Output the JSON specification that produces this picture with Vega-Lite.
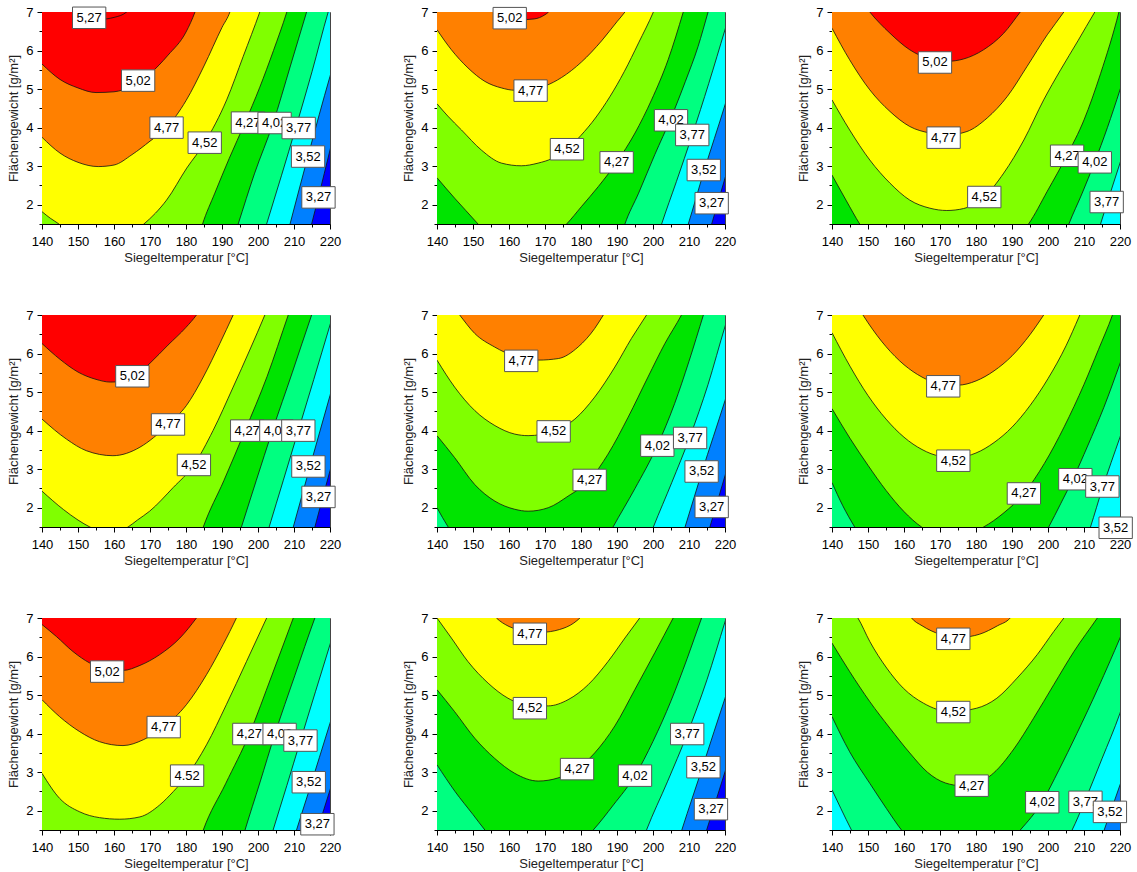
{
  "$schema": "https://vega.github.io/schema/vega-lite/v6.json",
  "background": "white",
  "padding": {"left": 7, "top": 4, "right": 2, "bottom": 2},
  "data": {"values": [
    {"p":1,"c":3.02,"b":1,"x":139,"y":1},{"p":1,"c":3.02,"b":1,"x":221,"y":1},
    {"p":1,"c":3.27,"x":139,"y":0.9},{"p":1,"c":3.27,"x":213.6,"y":1.0},{"p":1,"c":3.27,"x":214.9,"y":1.5},{"p":1,"c":3.27,"x":216.8,"y":2.2},{"p":1,"c":3.27,"x":220,"y":3.42},{"p":1,"c":3.27,"x":221,"y":3.8},
    {"p":1,"c":3.52,"x":139,"y":0.9},{"p":1,"c":3.52,"x":207.5,"y":1.0},{"p":1,"c":3.52,"x":208.9,"y":1.5},{"p":1,"c":3.52,"x":214,"y":3.3},{"p":1,"c":3.52,"x":220,"y":5.33},{"p":1,"c":3.52,"x":221,"y":5.65},
    {"p":1,"c":3.77,"x":139,"y":0.9},{"p":1,"c":3.77,"x":200.8,"y":1.0},{"p":1,"c":3.77,"x":202.4,"y":1.5},{"p":1,"c":3.77,"x":206.5,"y":2.75},{"p":1,"c":3.77,"x":210.5,"y":4.0},{"p":1,"c":3.77,"x":215,"y":5.45},{"p":1,"c":3.77,"x":219.5,"y":7},{"p":1,"c":3.77,"x":220.8,"y":7.4},
    {"p":1,"c":4.02,"x":139,"y":0.9},{"p":1,"c":4.02,"x":192.8,"y":1.0},{"p":1,"c":4.02,"x":194.5,"y":1.5},{"p":1,"c":4.02,"x":199,"y":2.8},{"p":1,"c":4.02,"x":204.2,"y":4.12},{"p":1,"c":4.02,"x":209,"y":5.6},{"p":1,"c":4.02,"x":213.5,"y":7},{"p":1,"c":4.02,"x":214.8,"y":7.4},
    {"p":1,"c":4.27,"x":139,"y":0.9},{"p":1,"c":4.27,"x":183,"y":1.0},{"p":1,"c":4.27,"x":184.6,"y":1.5},{"p":1,"c":4.27,"x":188,"y":2.3},{"p":1,"c":4.27,"x":192,"y":3.2},{"p":1,"c":4.27,"x":196.4,"y":4.13},{"p":1,"c":4.27,"x":200.5,"y":5.05},{"p":1,"c":4.27,"x":204.3,"y":6.0},{"p":1,"c":4.27,"x":208,"y":7},{"p":1,"c":4.27,"x":209.3,"y":7.4},
    {"p":1,"c":4.52,"x":140,"y":1.82},{"p":1,"c":4.52,"x":142.3,"y":1.65},{"p":1,"c":4.52,"x":144.7,"y":1.5},{"p":1,"c":4.52,"x":148,"y":1.22},{"p":1,"c":4.52,"x":156,"y":1.05},{"p":1,"c":4.52,"x":164,"y":1.2},{"p":1,"c":4.52,"x":168.3,"y":1.5},{"p":1,"c":4.52,"x":171.5,"y":1.78},{"p":1,"c":4.52,"x":174.6,"y":2.12},{"p":1,"c":4.52,"x":180.2,"y":2.95},{"p":1,"c":4.52,"x":185.2,"y":3.61},{"p":1,"c":4.52,"x":191.3,"y":4.72},{"p":1,"c":4.52,"x":195.9,"y":5.85},{"p":1,"c":4.52,"x":200.5,"y":7},{"p":1,"c":4.52,"x":202,"y":7.4},
    {"p":1,"c":4.77,"x":140,"y":3.75},{"p":1,"c":4.77,"x":145,"y":3.34},{"p":1,"c":4.77,"x":150,"y":3.1},{"p":1,"c":4.77,"x":155.6,"y":2.99},{"p":1,"c":4.77,"x":160,"y":3.03},{"p":1,"c":4.77,"x":165,"y":3.3},{"p":1,"c":4.77,"x":170,"y":3.65},{"p":1,"c":4.77,"x":174.6,"y":4.0},{"p":1,"c":4.77,"x":180,"y":4.7},{"p":1,"c":4.77,"x":185,"y":5.6},{"p":1,"c":4.77,"x":190,"y":6.6},{"p":1,"c":4.77,"x":192.2,"y":7},{"p":1,"c":4.77,"x":193.5,"y":7.4},
    {"p":1,"c":5.02,"x":140,"y":5.65},{"p":1,"c":5.02,"x":145,"y":5.25},{"p":1,"c":5.02,"x":150,"y":5.03},{"p":1,"c":5.02,"x":155,"y":4.91},{"p":1,"c":5.02,"x":160,"y":4.93},{"p":1,"c":5.02,"x":165,"y":5.08},{"p":1,"c":5.02,"x":170,"y":5.4},{"p":1,"c":5.02,"x":175,"y":5.88},{"p":1,"c":5.02,"x":180,"y":6.48},{"p":1,"c":5.02,"x":182.5,"y":7},{"p":1,"c":5.02,"x":183.8,"y":7.35},
    {"p":1,"c":5.27,"x":147.5,"y":7.3},{"p":1,"c":5.27,"x":149.5,"y":7},{"p":1,"c":5.27,"x":152,"y":6.86},{"p":1,"c":5.27,"x":156,"y":6.81},{"p":1,"c":5.27,"x":160,"y":6.86},{"p":1,"c":5.27,"x":163.5,"y":7},{"p":1,"c":5.27,"x":165,"y":7.15},

    {"p":2,"c":3.02,"b":1,"x":139,"y":1},{"p":2,"c":3.02,"b":1,"x":221,"y":1},
    {"p":2,"c":3.27,"x":139,"y":0.9},{"p":2,"c":3.27,"x":214.7,"y":1.0},{"p":2,"c":3.27,"x":216.3,"y":1.5},{"p":2,"c":3.27,"x":220,"y":2.69},{"p":2,"c":3.27,"x":221,"y":3.0},
    {"p":2,"c":3.52,"x":139,"y":0.9},{"p":2,"c":3.52,"x":208.1,"y":1.0},{"p":2,"c":3.52,"x":209.8,"y":1.5},{"p":2,"c":3.52,"x":214.1,"y":2.85},{"p":2,"c":3.52,"x":220,"y":4.59},{"p":2,"c":3.52,"x":221,"y":4.9},
    {"p":2,"c":3.77,"x":139,"y":0.9},{"p":2,"c":3.77,"x":200.7,"y":1.0},{"p":2,"c":3.77,"x":202.4,"y":1.5},{"p":2,"c":3.77,"x":206.5,"y":2.6},{"p":2,"c":3.77,"x":210.9,"y":3.81},{"p":2,"c":3.77,"x":215.5,"y":5.15},{"p":2,"c":3.77,"x":220,"y":6.54},{"p":2,"c":3.77,"x":221,"y":6.85},
    {"p":2,"c":4.02,"x":139,"y":0.9},{"p":2,"c":4.02,"x":190.5,"y":1.0},{"p":2,"c":4.02,"x":192.2,"y":1.5},{"p":2,"c":4.02,"x":196,"y":2.3},{"p":2,"c":4.02,"x":200.5,"y":3.3},{"p":2,"c":4.02,"x":205,"y":4.25},{"p":2,"c":4.02,"x":209,"y":5.2},{"p":2,"c":4.02,"x":212.5,"y":6.1},{"p":2,"c":4.02,"x":215.3,"y":7},{"p":2,"c":4.02,"x":216.5,"y":7.4},
    {"p":2,"c":4.27,"x":140,"y":2.7},{"p":2,"c":4.27,"x":144.9,"y":2.17},{"p":2,"c":4.27,"x":148,"y":1.85},{"p":2,"c":4.27,"x":151.4,"y":1.5},{"p":2,"c":4.27,"x":155,"y":1.15},{"p":2,"c":4.27,"x":163,"y":0.9},{"p":2,"c":4.27,"x":171,"y":1.1},{"p":2,"c":4.27,"x":176,"y":1.5},{"p":2,"c":4.27,"x":180.1,"y":1.95},{"p":2,"c":4.27,"x":184.8,"y":2.47},{"p":2,"c":4.27,"x":189.9,"y":3.1},{"p":2,"c":4.27,"x":195,"y":3.86},{"p":2,"c":4.27,"x":199.6,"y":4.72},{"p":2,"c":4.27,"x":204.2,"y":5.76},{"p":2,"c":4.27,"x":208.4,"y":7},{"p":2,"c":4.27,"x":209.5,"y":7.35},
    {"p":2,"c":4.52,"x":140,"y":4.62},{"p":2,"c":4.52,"x":143,"y":4.3},{"p":2,"c":4.52,"x":146.8,"y":3.94},{"p":2,"c":4.52,"x":152.3,"y":3.42},{"p":2,"c":4.52,"x":157.9,"y":3.08},{"p":2,"c":4.52,"x":163.4,"y":3.01},{"p":2,"c":4.52,"x":168.1,"y":3.08},{"p":2,"c":4.52,"x":172,"y":3.2},{"p":2,"c":4.52,"x":176.1,"y":3.44},{"p":2,"c":4.52,"x":180,"y":3.8},{"p":2,"c":4.52,"x":184,"y":4.25},{"p":2,"c":4.52,"x":188,"y":4.8},{"p":2,"c":4.52,"x":192,"y":5.45},{"p":2,"c":4.52,"x":196,"y":6.2},{"p":2,"c":4.52,"x":200.1,"y":7},{"p":2,"c":4.52,"x":201.2,"y":7.25},
    {"p":2,"c":4.77,"x":140,"y":6.54},{"p":2,"c":4.77,"x":144,"y":6.02},{"p":2,"c":4.77,"x":148.6,"y":5.55},{"p":2,"c":4.77,"x":153.3,"y":5.2},{"p":2,"c":4.77,"x":157.9,"y":5.03},{"p":2,"c":4.77,"x":161.6,"y":4.97},{"p":2,"c":4.77,"x":166,"y":4.98},{"p":2,"c":4.77,"x":170,"y":5.08},{"p":2,"c":4.77,"x":174.6,"y":5.3},{"p":2,"c":4.77,"x":180.1,"y":5.7},{"p":2,"c":4.77,"x":185.7,"y":6.25},{"p":2,"c":4.77,"x":190,"y":6.75},{"p":2,"c":4.77,"x":192.2,"y":7},{"p":2,"c":4.77,"x":193.3,"y":7.15},
    {"p":2,"c":5.02,"x":157,"y":7.15},{"p":2,"c":5.02,"x":159,"y":6.92},{"p":2,"c":5.02,"x":163,"y":6.8},{"p":2,"c":5.02,"x":167,"y":6.82},{"p":2,"c":5.02,"x":170,"y":6.93},{"p":2,"c":5.02,"x":171,"y":7},{"p":2,"c":5.02,"x":172.5,"y":7.15},

    {"p":3,"c":3.52,"b":1,"x":139,"y":1},{"p":3,"c":3.52,"b":1,"x":221,"y":1},
    {"p":3,"c":3.77,"x":139,"y":0.9},{"p":3,"c":3.77,"x":212.9,"y":1.0},{"p":3,"c":3.77,"x":214.6,"y":1.5},{"p":3,"c":3.77,"x":217.3,"y":2.3},{"p":3,"c":3.77,"x":220,"y":3.08},{"p":3,"c":3.77,"x":221,"y":3.37},
    {"p":3,"c":4.02,"x":139,"y":0.9},{"p":3,"c":4.02,"x":203.8,"y":1.0},{"p":3,"c":4.02,"x":205.8,"y":1.5},{"p":3,"c":4.02,"x":209.5,"y":2.3},{"p":3,"c":4.02,"x":212.9,"y":3.09},{"p":3,"c":4.02,"x":216.5,"y":4.0},{"p":3,"c":4.02,"x":220,"y":4.98},{"p":3,"c":4.02,"x":221,"y":5.27},
    {"p":3,"c":4.27,"x":140,"y":2.77},{"p":3,"c":4.27,"x":144,"y":2.1},{"p":3,"c":4.27,"x":147.7,"y":1.5},{"p":3,"c":4.27,"x":151,"y":1.05},{"p":3,"c":4.27,"x":160,"y":0.6},{"p":3,"c":4.27,"x":171,"y":0.5},{"p":3,"c":4.27,"x":182,"y":0.6},{"p":3,"c":4.27,"x":190.5,"y":1.05},{"p":3,"c":4.27,"x":194.6,"y":1.5},{"p":3,"c":4.27,"x":199.8,"y":2.35},{"p":3,"c":4.27,"x":205.2,"y":3.27},{"p":3,"c":4.27,"x":210,"y":4.2},{"p":3,"c":4.27,"x":214.6,"y":5.4},{"p":3,"c":4.27,"x":219.7,"y":7},{"p":3,"c":4.27,"x":220.5,"y":7.3},
    {"p":3,"c":4.52,"x":140,"y":4.72},{"p":3,"c":4.52,"x":144.9,"y":3.94},{"p":3,"c":4.52,"x":150.5,"y":3.16},{"p":3,"c":4.52,"x":156.1,"y":2.56},{"p":3,"c":4.52,"x":161.6,"y":2.12},{"p":3,"c":4.52,"x":167.2,"y":1.91},{"p":3,"c":4.52,"x":171.9,"y":1.85},{"p":3,"c":4.52,"x":176.5,"y":1.9},{"p":3,"c":4.52,"x":182.3,"y":2.2},{"p":3,"c":4.52,"x":187.7,"y":2.82},{"p":3,"c":4.52,"x":193.3,"y":3.68},{"p":3,"c":4.52,"x":198.8,"y":4.72},{"p":3,"c":4.52,"x":203.5,"y":5.5},{"p":3,"c":4.52,"x":208.3,"y":6.25},{"p":3,"c":4.52,"x":213,"y":7},{"p":3,"c":4.52,"x":214.3,"y":7.2},
    {"p":3,"c":4.77,"x":140,"y":6.58},{"p":3,"c":4.77,"x":144.9,"y":5.76},{"p":3,"c":4.77,"x":150.5,"y":4.98},{"p":3,"c":4.77,"x":156.1,"y":4.42},{"p":3,"c":4.77,"x":161.6,"y":4.03},{"p":3,"c":4.77,"x":167.2,"y":3.86},{"p":3,"c":4.77,"x":171.9,"y":3.81},{"p":3,"c":4.77,"x":177.5,"y":3.9},{"p":3,"c":4.77,"x":183.1,"y":4.25},{"p":3,"c":4.77,"x":188.7,"y":4.81},{"p":3,"c":4.77,"x":194.2,"y":5.59},{"p":3,"c":4.77,"x":199.8,"y":6.41},{"p":3,"c":4.77,"x":204.4,"y":7},{"p":3,"c":4.77,"x":205.5,"y":7.15},
    {"p":3,"c":5.02,"x":149.5,"y":7.12},{"p":3,"c":5.02,"x":150.5,"y":7},{"p":3,"c":5.02,"x":156.1,"y":6.45},{"p":3,"c":5.02,"x":161.6,"y":6.02},{"p":3,"c":5.02,"x":167.2,"y":5.78},{"p":3,"c":5.02,"x":171.9,"y":5.72},{"p":3,"c":5.02,"x":176.5,"y":5.78},{"p":3,"c":5.02,"x":182.1,"y":6.02},{"p":3,"c":5.02,"x":187.7,"y":6.45},{"p":3,"c":5.02,"x":192.3,"y":7},{"p":3,"c":5.02,"x":193.3,"y":7.12},

    {"p":4,"c":3.02,"b":1,"x":139,"y":1},{"p":4,"c":3.02,"b":1,"x":221,"y":1},
    {"p":4,"c":3.27,"x":139,"y":0.9},{"p":4,"c":3.27,"x":214.4,"y":1.0},{"p":4,"c":3.27,"x":215.8,"y":1.5},{"p":4,"c":3.27,"x":220,"y":2.96},{"p":4,"c":3.27,"x":221,"y":3.3},
    {"p":4,"c":3.52,"x":139,"y":0.9},{"p":4,"c":3.52,"x":208.3,"y":1.0},{"p":4,"c":3.52,"x":209.8,"y":1.5},{"p":4,"c":3.52,"x":214.3,"y":3.02},{"p":4,"c":3.52,"x":220,"y":4.91},{"p":4,"c":3.52,"x":221,"y":5.24},
    {"p":4,"c":3.77,"x":139,"y":0.9},{"p":4,"c":3.77,"x":201.5,"y":1.0},{"p":4,"c":3.77,"x":203.1,"y":1.5},{"p":4,"c":3.77,"x":207,"y":2.7},{"p":4,"c":3.77,"x":211.2,"y":4.0},{"p":4,"c":3.77,"x":215.5,"y":5.33},{"p":4,"c":3.77,"x":220,"y":6.74},{"p":4,"c":3.77,"x":221,"y":7.05},
    {"p":4,"c":4.02,"x":139,"y":0.9},{"p":4,"c":4.02,"x":193.7,"y":1.0},{"p":4,"c":4.02,"x":195.4,"y":1.5},{"p":4,"c":4.02,"x":199.5,"y":2.7},{"p":4,"c":4.02,"x":204,"y":4.0},{"p":4,"c":4.02,"x":209.5,"y":5.5},{"p":4,"c":4.02,"x":214.9,"y":7},{"p":4,"c":4.02,"x":216.2,"y":7.35},
    {"p":4,"c":4.27,"x":139,"y":0.9},{"p":4,"c":4.27,"x":183,"y":1.0},{"p":4,"c":4.27,"x":184.8,"y":1.5},{"p":4,"c":4.27,"x":190.5,"y":2.7},{"p":4,"c":4.27,"x":196.4,"y":4.0},{"p":4,"c":4.27,"x":202.5,"y":5.4},{"p":4,"c":4.27,"x":208.4,"y":7},{"p":4,"c":4.27,"x":209.7,"y":7.35},
    {"p":4,"c":4.52,"x":140,"y":2.43},{"p":4,"c":4.52,"x":146,"y":1.95},{"p":4,"c":4.52,"x":150,"y":1.68},{"p":4,"c":4.52,"x":153.3,"y":1.5},{"p":4,"c":4.52,"x":158.6,"y":1.32},{"p":4,"c":4.52,"x":163.9,"y":1.5},{"p":4,"c":4.52,"x":166.5,"y":1.68},{"p":4,"c":4.52,"x":169.9,"y":1.91},{"p":4,"c":4.52,"x":176.4,"y":2.52},{"p":4,"c":4.52,"x":182.2,"y":3.11},{"p":4,"c":4.52,"x":187.5,"y":4.0},{"p":4,"c":4.52,"x":193.1,"y":5.13},{"p":4,"c":4.52,"x":197.7,"y":6.09},{"p":4,"c":4.52,"x":201.9,"y":7},{"p":4,"c":4.52,"x":203,"y":7.25},
    {"p":4,"c":4.77,"x":140,"y":4.3},{"p":4,"c":4.77,"x":146.8,"y":3.78},{"p":4,"c":4.77,"x":152.3,"y":3.48},{"p":4,"c":4.77,"x":159.7,"y":3.35},{"p":4,"c":4.77,"x":167.2,"y":3.57},{"p":4,"c":4.77,"x":171,"y":3.82},{"p":4,"c":4.77,"x":175,"y":4.16},{"p":4,"c":4.77,"x":180.1,"y":4.65},{"p":4,"c":4.77,"x":184.8,"y":5.39},{"p":4,"c":4.77,"x":189.4,"y":6.26},{"p":4,"c":4.77,"x":193.1,"y":7},{"p":4,"c":4.77,"x":194.2,"y":7.22},
    {"p":4,"c":5.02,"x":140,"y":6.26},{"p":4,"c":5.02,"x":145,"y":5.85},{"p":4,"c":5.02,"x":150,"y":5.52},{"p":4,"c":5.02,"x":155,"y":5.33},{"p":4,"c":5.02,"x":159,"y":5.26},{"p":4,"c":5.02,"x":163,"y":5.3},{"p":4,"c":5.02,"x":166,"y":5.42},{"p":4,"c":5.02,"x":170,"y":5.75},{"p":4,"c":5.02,"x":175,"y":6.22},{"p":4,"c":5.02,"x":180,"y":6.68},{"p":4,"c":5.02,"x":182.9,"y":7},{"p":4,"c":5.02,"x":184,"y":7.15},

    {"p":5,"c":3.02,"b":1,"x":139,"y":1},{"p":5,"c":3.02,"b":1,"x":221,"y":1},
    {"p":5,"c":3.27,"x":139,"y":0.9},{"p":5,"c":3.27,"x":214.2,"y":1.0},{"p":5,"c":3.27,"x":215.8,"y":1.5},{"p":5,"c":3.27,"x":220,"y":2.83},{"p":5,"c":3.27,"x":221,"y":3.15},
    {"p":5,"c":3.52,"x":139,"y":0.9},{"p":5,"c":3.52,"x":207.2,"y":1.0},{"p":5,"c":3.52,"x":208.9,"y":1.5},{"p":5,"c":3.52,"x":213.5,"y":2.9},{"p":5,"c":3.52,"x":220,"y":4.78},{"p":5,"c":3.52,"x":221,"y":5.08},
    {"p":5,"c":3.77,"x":139,"y":0.9},{"p":5,"c":3.77,"x":198,"y":1.0},{"p":5,"c":3.77,"x":200.1,"y":1.5},{"p":5,"c":3.77,"x":205.2,"y":2.65},{"p":5,"c":3.77,"x":210.3,"y":3.85},{"p":5,"c":3.77,"x":215.3,"y":5.2},{"p":5,"c":3.77,"x":220,"y":6.7},{"p":5,"c":3.77,"x":221,"y":7.0},
    {"p":5,"c":4.02,"x":140,"y":2.0},{"p":5,"c":4.02,"x":141.5,"y":1.75},{"p":5,"c":4.02,"x":143.1,"y":1.5},{"p":5,"c":4.02,"x":146,"y":1.05},{"p":5,"c":4.02,"x":153,"y":0.55},{"p":5,"c":4.02,"x":166,"y":0.35},{"p":5,"c":4.02,"x":179,"y":0.55},{"p":5,"c":4.02,"x":186,"y":1.0},{"p":5,"c":4.02,"x":188.9,"y":1.5},{"p":5,"c":4.02,"x":195,"y":2.5},{"p":5,"c":4.02,"x":201.2,"y":3.61},{"p":5,"c":4.02,"x":206,"y":4.7},{"p":5,"c":4.02,"x":210,"y":5.8},{"p":5,"c":4.02,"x":214,"y":7},{"p":5,"c":4.02,"x":215,"y":7.3},
    {"p":5,"c":4.27,"x":140,"y":3.87},{"p":5,"c":4.27,"x":144.9,"y":3.3},{"p":5,"c":4.27,"x":150.5,"y":2.6},{"p":5,"c":4.27,"x":156.1,"y":2.17},{"p":5,"c":4.27,"x":161.6,"y":1.96},{"p":5,"c":4.27,"x":165.3,"y":1.91},{"p":5,"c":4.27,"x":170.9,"y":2.0},{"p":5,"c":4.27,"x":176.4,"y":2.3},{"p":5,"c":4.27,"x":182.4,"y":2.72},{"p":5,"c":4.27,"x":187.5,"y":3.39},{"p":5,"c":4.27,"x":193.1,"y":4.35},{"p":5,"c":4.27,"x":198.6,"y":5.39},{"p":5,"c":4.27,"x":203.3,"y":6.26},{"p":5,"c":4.27,"x":207.9,"y":7},{"p":5,"c":4.27,"x":209,"y":7.2},
    {"p":5,"c":4.52,"x":140,"y":5.83},{"p":5,"c":4.52,"x":144.9,"y":5.13},{"p":5,"c":4.52,"x":150.5,"y":4.52},{"p":5,"c":4.52,"x":156.1,"y":4.13},{"p":5,"c":4.52,"x":161.6,"y":3.91},{"p":5,"c":4.52,"x":165.3,"y":3.87},{"p":5,"c":4.52,"x":172.4,"y":3.98},{"p":5,"c":4.52,"x":178.3,"y":4.3},{"p":5,"c":4.52,"x":183.8,"y":4.87},{"p":5,"c":4.52,"x":189.4,"y":5.65},{"p":5,"c":4.52,"x":194,"y":6.39},{"p":5,"c":4.52,"x":198.2,"y":7},{"p":5,"c":4.52,"x":199.2,"y":7.15},
    {"p":5,"c":4.77,"x":145.3,"y":7.12},{"p":5,"c":4.77,"x":146.3,"y":7},{"p":5,"c":4.77,"x":150.5,"y":6.52},{"p":5,"c":4.77,"x":156,"y":6.17},{"p":5,"c":4.77,"x":161.6,"y":5.93},{"p":5,"c":4.77,"x":168.1,"y":5.83},{"p":5,"c":4.77,"x":173.7,"y":5.87},{"p":5,"c":4.77,"x":179.2,"y":6.17},{"p":5,"c":4.77,"x":183.8,"y":6.65},{"p":5,"c":4.77,"x":186.2,"y":7},{"p":5,"c":4.77,"x":187,"y":7.12},

    {"p":6,"c":3.27,"b":1,"x":139,"y":1},{"p":6,"c":3.27,"b":1,"x":221,"y":1},
    {"p":6,"c":3.52,"x":139,"y":0.9},{"p":6,"c":3.52,"x":217.5,"y":1.1},{"p":6,"c":3.52,"x":218.5,"y":1.5},{"p":6,"c":3.52,"x":220,"y":1.75},{"p":6,"c":3.52,"x":221,"y":1.95},
    {"p":6,"c":3.77,"x":139,"y":0.9},{"p":6,"c":3.77,"x":210,"y":1.0},{"p":6,"c":3.77,"x":211.8,"y":1.5},{"p":6,"c":3.77,"x":215.1,"y":2.5},{"p":6,"c":3.77,"x":220,"y":3.83},{"p":6,"c":3.77,"x":221,"y":4.1},
    {"p":6,"c":4.02,"x":140,"y":2.65},{"p":6,"c":4.02,"x":143,"y":2.05},{"p":6,"c":4.02,"x":146.3,"y":1.5},{"p":6,"c":4.02,"x":149,"y":1.1},{"p":6,"c":4.02,"x":160,"y":0.5},{"p":6,"c":4.02,"x":175,"y":0.35},{"p":6,"c":4.02,"x":190,"y":0.6},{"p":6,"c":4.02,"x":197.5,"y":1.05},{"p":6,"c":4.02,"x":200.2,"y":1.5},{"p":6,"c":4.02,"x":203.5,"y":2.1},{"p":6,"c":4.02,"x":206.9,"y":2.74},{"p":6,"c":4.02,"x":211,"y":3.6},{"p":6,"c":4.02,"x":215.5,"y":4.6},{"p":6,"c":4.02,"x":220,"y":5.74},{"p":6,"c":4.02,"x":221,"y":6.0},
    {"p":6,"c":4.27,"x":140,"y":4.57},{"p":6,"c":4.27,"x":145,"y":3.8},{"p":6,"c":4.27,"x":150,"y":3.1},{"p":6,"c":4.27,"x":155,"y":2.45},{"p":6,"c":4.27,"x":160,"y":1.9},{"p":6,"c":4.27,"x":164.9,"y":1.5},{"p":6,"c":4.27,"x":173,"y":1.25},{"p":6,"c":4.27,"x":182.1,"y":1.5},{"p":6,"c":4.27,"x":187.5,"y":1.85},{"p":6,"c":4.27,"x":193.3,"y":2.37},{"p":6,"c":4.27,"x":199,"y":3.15},{"p":6,"c":4.27,"x":204.5,"y":4.1},{"p":6,"c":4.27,"x":210,"y":5.2},{"p":6,"c":4.27,"x":214,"y":6.1},{"p":6,"c":4.27,"x":217.9,"y":7},{"p":6,"c":4.27,"x":219,"y":7.3},
    {"p":6,"c":4.52,"x":140,"y":6.54},{"p":6,"c":4.52,"x":145,"y":5.67},{"p":6,"c":4.52,"x":150,"y":4.91},{"p":6,"c":4.52,"x":155,"y":4.3},{"p":6,"c":4.52,"x":160,"y":3.83},{"p":6,"c":4.52,"x":165,"y":3.51},{"p":6,"c":4.52,"x":170,"y":3.34},{"p":6,"c":4.52,"x":175,"y":3.31},{"p":6,"c":4.52,"x":180,"y":3.42},{"p":6,"c":4.52,"x":185,"y":3.69},{"p":6,"c":4.52,"x":190,"y":4.09},{"p":6,"c":4.52,"x":195,"y":4.65},{"p":6,"c":4.52,"x":200,"y":5.35},{"p":6,"c":4.52,"x":205,"y":6.2},{"p":6,"c":4.52,"x":208.6,"y":6.95},{"p":6,"c":4.52,"x":210,"y":7.25},
    {"p":6,"c":4.77,"x":148,"y":7.08},{"p":6,"c":4.77,"x":148.6,"y":7},{"p":6,"c":4.77,"x":150,"y":6.8},{"p":6,"c":4.77,"x":155,"y":6.18},{"p":6,"c":4.77,"x":160,"y":5.71},{"p":6,"c":4.77,"x":165,"y":5.39},{"p":6,"c":4.77,"x":170,"y":5.21},{"p":6,"c":4.77,"x":175,"y":5.18},{"p":6,"c":4.77,"x":180,"y":5.29},{"p":6,"c":4.77,"x":185,"y":5.55},{"p":6,"c":4.77,"x":190,"y":5.94},{"p":6,"c":4.77,"x":195,"y":6.49},{"p":6,"c":4.77,"x":198.8,"y":7},{"p":6,"c":4.77,"x":200,"y":7.17},

    {"p":7,"c":3.02,"b":1,"x":139,"y":1},{"p":7,"c":3.02,"b":1,"x":221,"y":1},
    {"p":7,"c":3.27,"x":139,"y":0.9},{"p":7,"c":3.27,"x":214.8,"y":1.0},{"p":7,"c":3.27,"x":216.5,"y":1.5},{"p":7,"c":3.27,"x":220,"y":2.54},{"p":7,"c":3.27,"x":221,"y":2.84},
    {"p":7,"c":3.52,"x":139,"y":0.9},{"p":7,"c":3.52,"x":209,"y":1.0},{"p":7,"c":3.52,"x":210.7,"y":1.5},{"p":7,"c":3.52,"x":214.1,"y":2.5},{"p":7,"c":3.52,"x":220,"y":4.27},{"p":7,"c":3.52,"x":221,"y":4.57},
    {"p":7,"c":3.77,"x":139,"y":0.9},{"p":7,"c":3.77,"x":202.6,"y":1.0},{"p":7,"c":3.77,"x":204.2,"y":1.5},{"p":7,"c":3.77,"x":208,"y":2.65},{"p":7,"c":3.77,"x":211.8,"y":3.82},{"p":7,"c":3.77,"x":216,"y":5.1},{"p":7,"c":3.77,"x":220,"y":6.31},{"p":7,"c":3.77,"x":221,"y":6.62},
    {"p":7,"c":4.02,"x":139,"y":0.9},{"p":7,"c":4.02,"x":194.8,"y":1.0},{"p":7,"c":4.02,"x":196.4,"y":1.5},{"p":7,"c":4.02,"x":200.5,"y":2.72},{"p":7,"c":4.02,"x":204.7,"y":3.99},{"p":7,"c":4.02,"x":210.2,"y":5.5},{"p":7,"c":4.02,"x":215.8,"y":7},{"p":7,"c":4.02,"x":217.2,"y":7.35},
    {"p":7,"c":4.27,"x":139,"y":0.9},{"p":7,"c":4.27,"x":183,"y":1.0},{"p":7,"c":4.27,"x":184.8,"y":1.5},{"p":7,"c":4.27,"x":191,"y":2.7},{"p":7,"c":4.27,"x":197.6,"y":3.99},{"p":7,"c":4.27,"x":203.8,"y":5.5},{"p":7,"c":4.27,"x":209.8,"y":7},{"p":7,"c":4.27,"x":211.2,"y":7.35},
    {"p":7,"c":4.52,"x":140,"y":2.97},{"p":7,"c":4.52,"x":144.9,"y":2.32},{"p":7,"c":4.52,"x":150.5,"y":1.97},{"p":7,"c":4.52,"x":156,"y":1.82},{"p":7,"c":4.52,"x":161.6,"y":1.78},{"p":7,"c":4.52,"x":167.2,"y":1.84},{"p":7,"c":4.52,"x":172.7,"y":2.15},{"p":7,"c":4.52,"x":176.5,"y":2.5},{"p":7,"c":4.52,"x":180.3,"y":2.91},{"p":7,"c":4.52,"x":185.7,"y":3.71},{"p":7,"c":4.52,"x":191.2,"y":4.75},{"p":7,"c":4.52,"x":196.8,"y":5.87},{"p":7,"c":4.52,"x":202.4,"y":7},{"p":7,"c":4.52,"x":203.5,"y":7.22},
    {"p":7,"c":4.77,"x":140,"y":4.88},{"p":7,"c":4.77,"x":144.9,"y":4.44},{"p":7,"c":4.77,"x":150.5,"y":4.05},{"p":7,"c":4.77,"x":156,"y":3.79},{"p":7,"c":4.77,"x":162.5,"y":3.69},{"p":7,"c":4.77,"x":168.1,"y":3.84},{"p":7,"c":4.77,"x":173.8,"y":4.17},{"p":7,"c":4.77,"x":180.1,"y":4.75},{"p":7,"c":4.77,"x":185.7,"y":5.53},{"p":7,"c":4.77,"x":190.3,"y":6.31},{"p":7,"c":4.77,"x":194,"y":7},{"p":7,"c":4.77,"x":195,"y":7.2},
    {"p":7,"c":5.02,"x":140,"y":6.83},{"p":7,"c":5.02,"x":144,"y":6.52},{"p":7,"c":5.02,"x":148.6,"y":6.13},{"p":7,"c":5.02,"x":153.3,"y":5.83},{"p":7,"c":5.02,"x":158.1,"y":5.66},{"p":7,"c":5.02,"x":162.5,"y":5.64},{"p":7,"c":5.02,"x":167.2,"y":5.77},{"p":7,"c":5.02,"x":172.7,"y":6.05},{"p":7,"c":5.02,"x":178.3,"y":6.48},{"p":7,"c":5.02,"x":182.9,"y":7},{"p":7,"c":5.02,"x":184,"y":7.14},

    {"p":8,"c":3.02,"b":1,"x":139,"y":1},{"p":8,"c":3.02,"b":1,"x":221,"y":1},
    {"p":8,"c":3.27,"x":139,"y":0.9},{"p":8,"c":3.27,"x":213.2,"y":1.0},{"p":8,"c":3.27,"x":214.9,"y":1.5},{"p":8,"c":3.27,"x":220,"y":3.01},{"p":8,"c":3.27,"x":221,"y":3.31},
    {"p":8,"c":3.52,"x":139,"y":0.9},{"p":8,"c":3.52,"x":206.3,"y":1.0},{"p":8,"c":3.52,"x":208,"y":1.5},{"p":8,"c":3.52,"x":214,"y":3.2},{"p":8,"c":3.52,"x":220,"y":4.92},{"p":8,"c":3.52,"x":221,"y":5.2},
    {"p":8,"c":3.77,"x":139,"y":0.9},{"p":8,"c":3.77,"x":196.2,"y":1.0},{"p":8,"c":3.77,"x":198.2,"y":1.5},{"p":8,"c":3.77,"x":204,"y":2.75},{"p":8,"c":3.77,"x":209.5,"y":3.99},{"p":8,"c":3.77,"x":215,"y":5.4},{"p":8,"c":3.77,"x":220,"y":6.9},{"p":8,"c":3.77,"x":221,"y":7.2},
    {"p":8,"c":4.02,"x":140,"y":3.19},{"p":8,"c":4.02,"x":145,"y":2.5},{"p":8,"c":4.02,"x":150,"y":1.9},{"p":8,"c":4.02,"x":153.3,"y":1.5},{"p":8,"c":4.02,"x":157,"y":1.1},{"p":8,"c":4.02,"x":167,"y":0.75},{"p":8,"c":4.02,"x":178,"y":1.0},{"p":8,"c":4.02,"x":183.4,"y":1.5},{"p":8,"c":4.02,"x":189,"y":2.15},{"p":8,"c":4.02,"x":195,"y":2.91},{"p":8,"c":4.02,"x":200,"y":3.8},{"p":8,"c":4.02,"x":205,"y":4.85},{"p":8,"c":4.02,"x":209.5,"y":5.95},{"p":8,"c":4.02,"x":213.5,"y":7},{"p":8,"c":4.02,"x":214.7,"y":7.3},
    {"p":8,"c":4.27,"x":140,"y":5.14},{"p":8,"c":4.27,"x":144.9,"y":4.57},{"p":8,"c":4.27,"x":150.5,"y":3.88},{"p":8,"c":4.27,"x":156,"y":3.36},{"p":8,"c":4.27,"x":161.6,"y":2.97},{"p":8,"c":4.27,"x":168.1,"y":2.77},{"p":8,"c":4.27,"x":173.6,"y":2.85},{"p":8,"c":4.27,"x":178.9,"y":3.08},{"p":8,"c":4.27,"x":183.8,"y":3.5},{"p":8,"c":4.27,"x":189.4,"y":4.2},{"p":8,"c":4.27,"x":195,"y":5.15},{"p":8,"c":4.27,"x":200.5,"y":6.1},{"p":8,"c":4.27,"x":205.6,"y":7},{"p":8,"c":4.27,"x":206.6,"y":7.18},
    {"p":8,"c":4.52,"x":140,"y":7},{"p":8,"c":4.52,"x":144,"y":6.48},{"p":8,"c":4.52,"x":148.6,"y":5.87},{"p":8,"c":4.52,"x":154.2,"y":5.31},{"p":8,"c":4.52,"x":159.7,"y":4.92},{"p":8,"c":4.52,"x":165.8,"y":4.73},{"p":8,"c":4.52,"x":170.9,"y":4.72},{"p":8,"c":4.52,"x":176.4,"y":4.88},{"p":8,"c":4.52,"x":182,"y":5.27},{"p":8,"c":4.52,"x":187.5,"y":5.87},{"p":8,"c":4.52,"x":192.2,"y":6.48},{"p":8,"c":4.52,"x":196.3,"y":7},{"p":8,"c":4.52,"x":197.3,"y":7.13},
    {"p":8,"c":4.77,"x":155,"y":7.15},{"p":8,"c":4.77,"x":156.5,"y":7},{"p":8,"c":4.77,"x":160,"y":6.78},{"p":8,"c":4.77,"x":165,"y":6.66},{"p":8,"c":4.77,"x":169,"y":6.63},{"p":8,"c":4.77,"x":174,"y":6.7},{"p":8,"c":4.77,"x":178,"y":6.87},{"p":8,"c":4.77,"x":179.7,"y":7},{"p":8,"c":4.77,"x":181,"y":7.12},

    {"p":9,"c":3.27,"b":1,"x":139,"y":1},{"p":9,"c":3.27,"b":1,"x":221,"y":1},
    {"p":9,"c":3.52,"x":139,"y":0.9},{"p":9,"c":3.52,"x":213.7,"y":1.0},{"p":9,"c":3.52,"x":215.6,"y":1.5},{"p":9,"c":3.52,"x":220,"y":2.67},{"p":9,"c":3.52,"x":221,"y":2.94},
    {"p":9,"c":3.77,"x":140,"y":2.54},{"p":9,"c":3.77,"x":142.5,"y":2.05},{"p":9,"c":3.77,"x":145.4,"y":1.5},{"p":9,"c":3.77,"x":148,"y":1.05},{"p":9,"c":3.77,"x":160,"y":0.5},{"p":9,"c":3.77,"x":178,"y":0.3},{"p":9,"c":3.77,"x":195,"y":0.5},{"p":9,"c":3.77,"x":204,"y":1.05},{"p":9,"c":3.77,"x":206.7,"y":1.5},{"p":9,"c":3.77,"x":210,"y":2.2},{"p":9,"c":3.77,"x":215,"y":3.35},{"p":9,"c":3.77,"x":220,"y":4.53},{"p":9,"c":3.77,"x":221,"y":4.8},
    {"p":9,"c":4.02,"x":140,"y":4.44},{"p":9,"c":4.02,"x":144.9,"y":3.53},{"p":9,"c":4.02,"x":150.5,"y":2.71},{"p":9,"c":4.02,"x":155.1,"y":2.06},{"p":9,"c":4.02,"x":159.3,"y":1.5},{"p":9,"c":4.02,"x":163,"y":1.1},{"p":9,"c":4.02,"x":175,"y":0.7},{"p":9,"c":4.02,"x":187,"y":1.0},{"p":9,"c":4.02,"x":192.3,"y":1.5},{"p":9,"c":4.02,"x":198.3,"y":2.22},{"p":9,"c":4.02,"x":203,"y":3.05},{"p":9,"c":4.02,"x":208,"y":4.0},{"p":9,"c":4.02,"x":214,"y":5.2},{"p":9,"c":4.02,"x":220,"y":6.48},{"p":9,"c":4.02,"x":221,"y":6.7},
    {"p":9,"c":4.27,"x":140,"y":6.35},{"p":9,"c":4.27,"x":144.9,"y":5.61},{"p":9,"c":4.27,"x":150.5,"y":4.83},{"p":9,"c":4.27,"x":156.1,"y":4.14},{"p":9,"c":4.27,"x":161.6,"y":3.5},{"p":9,"c":4.27,"x":166.5,"y":3.0},{"p":9,"c":4.27,"x":171.5,"y":2.72},{"p":9,"c":4.27,"x":176,"y":2.65},{"p":9,"c":4.27,"x":180,"y":2.7},{"p":9,"c":4.27,"x":184.9,"y":2.98},{"p":9,"c":4.27,"x":190.5,"y":3.6},{"p":9,"c":4.27,"x":196,"y":4.4},{"p":9,"c":4.27,"x":201.6,"y":5.27},{"p":9,"c":4.27,"x":207.2,"y":6.13},{"p":9,"c":4.27,"x":213.7,"y":7},{"p":9,"c":4.27,"x":214.8,"y":7.15},
    {"p":9,"c":4.52,"x":146.2,"y":7.14},{"p":9,"c":4.52,"x":147.2,"y":7},{"p":9,"c":4.52,"x":150.5,"y":6.39},{"p":9,"c":4.52,"x":155.2,"y":5.7},{"p":9,"c":4.52,"x":159.8,"y":5.18},{"p":9,"c":4.52,"x":165.4,"y":4.79},{"p":9,"c":4.52,"x":172.8,"y":4.57},{"p":9,"c":4.52,"x":180.2,"y":4.66},{"p":9,"c":4.52,"x":185.8,"y":4.92},{"p":9,"c":4.52,"x":191.4,"y":5.44},{"p":9,"c":4.52,"x":197,"y":6.05},{"p":9,"c":4.52,"x":201.6,"y":6.65},{"p":9,"c":4.52,"x":204.4,"y":7},{"p":9,"c":4.52,"x":205.4,"y":7.13},
    {"p":9,"c":4.77,"x":161,"y":7.15},{"p":9,"c":4.77,"x":162.1,"y":7},{"p":9,"c":4.77,"x":165,"y":6.8},{"p":9,"c":4.77,"x":170,"y":6.58},{"p":9,"c":4.77,"x":175.6,"y":6.5},{"p":9,"c":4.77,"x":181,"y":6.58},{"p":9,"c":4.77,"x":186,"y":6.8},{"p":9,"c":4.77,"x":189.5,"y":7},{"p":9,"c":4.77,"x":190.5,"y":7.12},

    {"p":1,"t":"5,27","x":153.1,"y":6.85,"z":0},{"p":1,"t":"5,02","x":166.7,"y":5.22,"z":0},{"p":1,"t":"4,77","x":174.6,"y":4.0,"z":0},{"p":1,"t":"4,52","x":185.2,"y":3.61,"z":0},{"p":1,"t":"4,27","x":197.2,"y":4.13,"z":0},{"p":1,"t":"4,02","x":204.6,"y":4.12,"z":1},{"p":1,"t":"3,77","x":211.3,"y":3.99,"z":2},{"p":1,"t":"3,52","x":213.9,"y":3.25,"z":0},{"p":1,"t":"3,27","x":216.8,"y":2.19,"z":0},
    {"p":2,"t":"5,02","x":160.2,"y":6.84,"z":0},{"p":2,"t":"4,77","x":166,"y":4.96,"z":0},{"p":2,"t":"4,52","x":176.1,"y":3.44,"z":0},{"p":2,"t":"4,27","x":189.9,"y":3.1,"z":0},{"p":2,"t":"4,02","x":205,"y":4.19,"z":0},{"p":2,"t":"3,77","x":210.9,"y":3.81,"z":1},{"p":2,"t":"3,52","x":214.1,"y":2.9,"z":0},{"p":2,"t":"3,27","x":216.3,"y":2.04,"z":0},
    {"p":3,"t":"5,02","x":168.6,"y":5.69,"z":0},{"p":3,"t":"4,77","x":171,"y":3.74,"z":0},{"p":3,"t":"4,52","x":182.3,"y":2.2,"z":0},{"p":3,"t":"4,27","x":205.3,"y":3.27,"z":0},{"p":3,"t":"4,02","x":213,"y":3.1,"z":1},{"p":3,"t":"3,77","x":216.3,"y":2.07,"z":0},
    {"p":4,"t":"5,02","x":165.1,"y":5.41,"z":0},{"p":4,"t":"4,77","x":175,"y":4.16,"z":0},{"p":4,"t":"4,52","x":182.2,"y":3.11,"z":0},{"p":4,"t":"4,27","x":197,"y":4.0,"z":0},{"p":4,"t":"4,02","x":205.1,"y":4.0,"z":1},{"p":4,"t":"3,77","x":211.2,"y":4.0,"z":2},{"p":4,"t":"3,52","x":214,"y":3.07,"z":0},{"p":4,"t":"3,27","x":216.8,"y":2.28,"z":0},
    {"p":5,"t":"4,77","x":163.4,"y":5.81,"z":0},{"p":5,"t":"4,52","x":172.4,"y":3.98,"z":0},{"p":5,"t":"4,27","x":182.4,"y":2.72,"z":0},{"p":5,"t":"4,02","x":201.2,"y":3.61,"z":0},{"p":5,"t":"3,77","x":210.3,"y":3.81,"z":1},{"p":5,"t":"3,52","x":213.5,"y":2.94,"z":0},{"p":5,"t":"3,27","x":216.3,"y":2.02,"z":0},
    {"p":6,"t":"4,77","x":170.9,"y":5.15,"z":0},{"p":6,"t":"4,52","x":173.7,"y":3.22,"z":0},{"p":6,"t":"4,27","x":193.3,"y":2.37,"z":0},{"p":6,"t":"4,02","x":207.6,"y":2.74,"z":0},{"p":6,"t":"3,77","x":215.1,"y":2.55,"z":1},{"p":6,"t":"3,52","x":218.8,"y":1.48,"z":0},
    {"p":7,"t":"5,02","x":158.1,"y":5.61,"z":0},{"p":7,"t":"4,77","x":173.8,"y":4.17,"z":0},{"p":7,"t":"4.52","x":180.3,"y":2.91,"z":0},{"p":7,"t":"4,27","x":197.6,"y":3.99,"z":0},{"p":7,"t":"4,02","x":206,"y":3.99,"z":1},{"p":7,"t":"3,77","x":211.8,"y":3.82,"z":2},{"p":7,"t":"3,52","x":214.1,"y":2.74,"z":0},{"p":7,"t":"3,27","x":216.5,"y":1.65,"z":0},
    {"p":8,"t":"4,77","x":165.8,"y":6.59,"z":0},{"p":8,"t":"4,52","x":165.8,"y":4.66,"z":0},{"p":8,"t":"4,27","x":178.9,"y":3.08,"z":0},{"p":8,"t":"4,02","x":195,"y":2.91,"z":0},{"p":8,"t":"3,77","x":209.5,"y":3.99,"z":0},{"p":8,"t":"3,52","x":214,"y":3.13,"z":0},{"p":8,"t":"3,27","x":216.1,"y":2.04,"z":0},
    {"p":9,"t":"4,77","x":173.7,"y":6.46,"z":0},{"p":9,"t":"4,52","x":173.7,"y":4.56,"z":0},{"p":9,"t":"4,27","x":178.8,"y":2.65,"z":0},{"p":9,"t":"4,02","x":198.4,"y":2.22,"z":0},{"p":9,"t":"3,77","x":210.4,"y":2.23,"z":0},{"p":9,"t":"3,52","x":217.2,"y":1.97,"z":1}
  ]},
  "facet": {"field": "p", "type": "ordinal", "title": null,
    "header": {"title": null, "labelExpr": "''", "labelFontSize": 0, "labelPadding": 0, "labelColor": "transparent"}},
  "columns": 3,
  "spacing": {"row": 91, "column": 107},
  "bounds": "flush",
  "resolve": {"axis": {"x": "independent", "y": "independent"}},
  "spec": {
    "width": 288,
    "height": 212,
    "encoding": {
      "x": {"field": "x", "type": "quantitative",
        "scale": {"domain": [140, 220], "nice": false, "zero": false},
        "axis": {"title": "Siegeltemperatur [°C]",
          "values": [140,145,150,155,160,165,170,175,180,185,190,195,200,205,210,215,220],
          "format": "d",
          "labelExpr": "datum.value % 10 === 0 ? datum.label : ''",
          "tickSize": {"condition": {"test": "datum.value % 10 === 0", "value": 5}, "value": 3},
          "labelPadding": 6, "titlePadding": 3, "labelFlush": false, "labelOverlap": false}},
      "y": {"field": "y", "type": "quantitative",
        "scale": {"domain": [1.5, 7], "nice": false, "zero": false},
        "axis": {"title": "Flächengewicht [g/m²]",
          "values": [1.5,2,2.5,3,3.5,4,4.5,5,5.5,6,6.5,7],
          "format": ".0f",
          "labelExpr": "datum.value % 1 === 0 ? datum.label : ''",
          "tickSize": {"condition": {"test": "datum.value % 1 === 0", "value": 5}, "value": 3},
          "labelPadding": 4, "titlePadding": 5, "labelFlush": false, "labelOverlap": false}}
    },
    "layer": [
      {
        "transform": [{"filter": "isValid(datum.c)"}],
        "mark": {"type": "area", "interpolate": "monotone", "clip": true, "opacity": 1},
        "encoding": {
          "y2": {"datum": 7},
          "color": {"field": "c", "type": "ordinal", "legend": null,
            "scale": {"domain": [3.02,3.27,3.52,3.77,4.02,4.27,4.52,4.77,5.02,5.27],
              "range": ["#0000FF","#0080FF","#00FFFF","#00FF80","#00E400","#80FF00","#FFFF00","#FF8000","#FF0000","#FF0000"]}}
        }
      },
      {
        "transform": [{"filter": "isValid(datum.c) && !datum.b"}],
        "mark": {"type": "line", "interpolate": "monotone", "clip": true, "color": "#111", "strokeWidth": 0.8},
        "encoding": {"detail": {"field": "c", "type": "ordinal"}}
      },
      {
        "transform": [{"filter": "datum.z === 0"}],
        "mark": {"type": "point", "shape": "M-1.55,-1H1.55V1H-1.55Z", "size": 462, "filled": true, "fill": "white", "stroke": "#555", "strokeWidth": 1, "opacity": 1}
      },
      {
        "transform": [{"filter": "datum.z === 0"}],
        "mark": {"type": "text", "font": "Liberation Sans", "fontSize": 13, "color": "#000", "align": "center", "baseline": "middle"},
        "encoding": {"text": {"field": "t"}}
      },
      {
        "transform": [{"filter": "datum.z === 1"}],
        "mark": {"type": "point", "shape": "M-1.55,-1H1.55V1H-1.55Z", "size": 462, "filled": true, "fill": "white", "stroke": "#555", "strokeWidth": 1, "opacity": 1}
      },
      {
        "transform": [{"filter": "datum.z === 1"}],
        "mark": {"type": "text", "font": "Liberation Sans", "fontSize": 13, "color": "#000", "align": "center", "baseline": "middle"},
        "encoding": {"text": {"field": "t"}}
      },
      {
        "transform": [{"filter": "datum.z === 2"}],
        "mark": {"type": "point", "shape": "M-1.55,-1H1.55V1H-1.55Z", "size": 462, "filled": true, "fill": "white", "stroke": "#555", "strokeWidth": 1, "opacity": 1}
      },
      {
        "transform": [{"filter": "datum.z === 2"}],
        "mark": {"type": "text", "font": "Liberation Sans", "fontSize": 13, "color": "#000", "align": "center", "baseline": "middle"},
        "encoding": {"text": {"field": "t"}}
      }
    ]
  },
  "config": {
    "view": {"stroke": "#444", "strokeWidth": 1},
    "font": "Liberation Sans",
    "axis": {"domainColor": "#000", "tickColor": "#000", "grid": false,
      "labelFont": "Liberation Sans", "labelFontSize": 13, "labelColor": "#000",
      "titleFont": "Liberation Sans", "titleFontSize": 13, "titleFontWeight": "normal", "titleColor": "#222"}
  }
}
